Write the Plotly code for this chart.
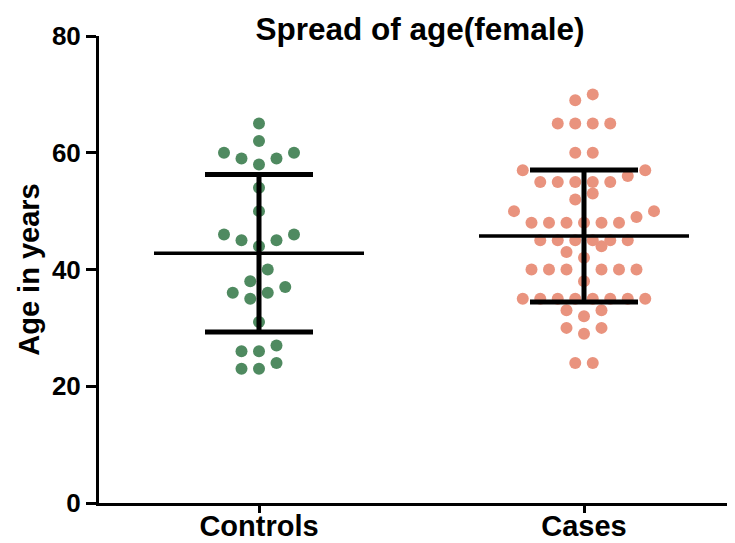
import numpy as np
import plotly.graph_objects as go

# ---- data ----
categories = ["Controls", "Cases"]
controls_age = [65, 62, 60, 60, 59, 59, 58, 54, 50, 46, 46, 45, 45, 44, 40,
                38, 37, 36, 36, 35, 31, 27, 26, 26, 24, 23, 23]
cases_age = [70, 69, 65, 65, 65, 65, 60, 60, 57, 57, 56, 55, 55, 55, 55, 55,
             53, 52, 50, 50, 49, 48, 48, 48, 48, 48, 48, 45, 45, 45, 45, 45, 45,
             44, 43, 42, 40, 40, 40, 40, 40, 40, 38, 35, 35, 35, 35, 35, 35, 35, 35,
             33, 33, 32, 30, 30, 29, 24, 24]
y_ticks = [0, 20, 40, 60, 80]
colors = ["#4f8a60", "#e9937e"]

# ---- layout geometry ----
# the page body adds an 8px offset, so the figure is 8px smaller than the window
W, H = 727, 535
ML, MR, MT, MB = 91, 0, 28, 40
plot_w = W - ML - MR
x_range = [-0.4923, 1.4646]
px_per_unit = plot_w / (x_range[1] - x_range[0])
slot_px = 17.5
slot = slot_px / px_per_unit


def swarm(values, span=2):
    """Prism-like scatter dot arrangement: rows of nearby values, spread
    symmetrically around the centre."""
    vals = sorted(values)
    rows, i = [], 0
    while i < len(vals):
        start = vals[i]
        row = []
        while i < len(vals) and vals[i] <= start + span:
            row.append(vals[i])
            i += 1
        rows.append(row)
    offs, ys = [], []
    for row in rows:
        n = len(row)
        slots = sorted([k - (n - 1) / 2 for k in range(n)], key=lambda s: (abs(s), s))
        for v, s in zip(row, slots):
            offs.append(s)
            ys.append(v)
    return np.array(offs), np.array(ys)


fig = go.Figure()
groups = [controls_age, cases_age]

for gi, (name, vals) in enumerate(zip(categories, groups)):
    offs, ys = swarm(vals)
    fig.add_trace(go.Scatter(
        x=gi + offs * slot, y=ys, mode="markers",
        marker=dict(size=12, color=colors[gi], line=dict(width=0)),
        showlegend=False, name=name, cliponaxis=False))

mean_half = 105 / px_per_unit
cap_half = 54 / px_per_unit
for gi, vals in enumerate(groups):
    m = float(np.mean(vals))
    sd = float(np.std(vals, ddof=1))
    # mean line
    fig.add_trace(go.Scatter(x=[gi - mean_half, gi + mean_half], y=[m, m],
                             mode="lines", line=dict(color="black", width=3.5),
                             showlegend=False, hoverinfo="skip"))
    # vertical SD bar
    fig.add_trace(go.Scatter(x=[gi, gi], y=[m - sd, m + sd],
                             mode="lines", line=dict(color="black", width=5),
                             showlegend=False, hoverinfo="skip"))
    # caps
    for yv in (m - sd, m + sd):
        fig.add_trace(go.Scatter(x=[gi - cap_half, gi + cap_half], y=[yv, yv],
                                 mode="lines", line=dict(color="black", width=5),
                                 showlegend=False, hoverinfo="skip"))

font_family = "Liberation Sans, Arial, sans-serif"
fig.update_layout(
    width=W, height=H,
    margin=dict(l=ML, r=MR, t=MT, b=MB, autoexpand=False),
    paper_bgcolor="white", plot_bgcolor="white",
    font=dict(family=font_family, color="black"),
    title=dict(text="Spread of age(female)", x=0.5667, xanchor="center",
               y=1 - 21 / H, yanchor="middle",
               font=dict(size=31.5, weight="bold", family=font_family, color="black")),
    xaxis=dict(range=x_range, tickvals=[0, 1], ticktext=categories, automargin=False,
               showgrid=False, zeroline=False, showline=True, linecolor="black",
               linewidth=3, ticks="outside", ticklen=7, tickwidth=3, tickcolor="black",
               ticklabelstandoff=-12,
               tickfont=dict(size=29, weight="bold", family=font_family, color="black")),
    yaxis=dict(range=[0, 80], tickvals=y_ticks, showgrid=False, zeroline=False,
               automargin=False,
               showline=True, linecolor="black", linewidth=3, ticks="outside",
               ticklen=10, tickwidth=3, tickcolor="black",
               tickfont=dict(size=26, weight="bold", family=font_family, color="black"),
               title=dict(text="Age in years", standoff=4,
                          font=dict(size=29, weight="bold", family=font_family, color="black"))),
)

fig.write_html("out.html")
